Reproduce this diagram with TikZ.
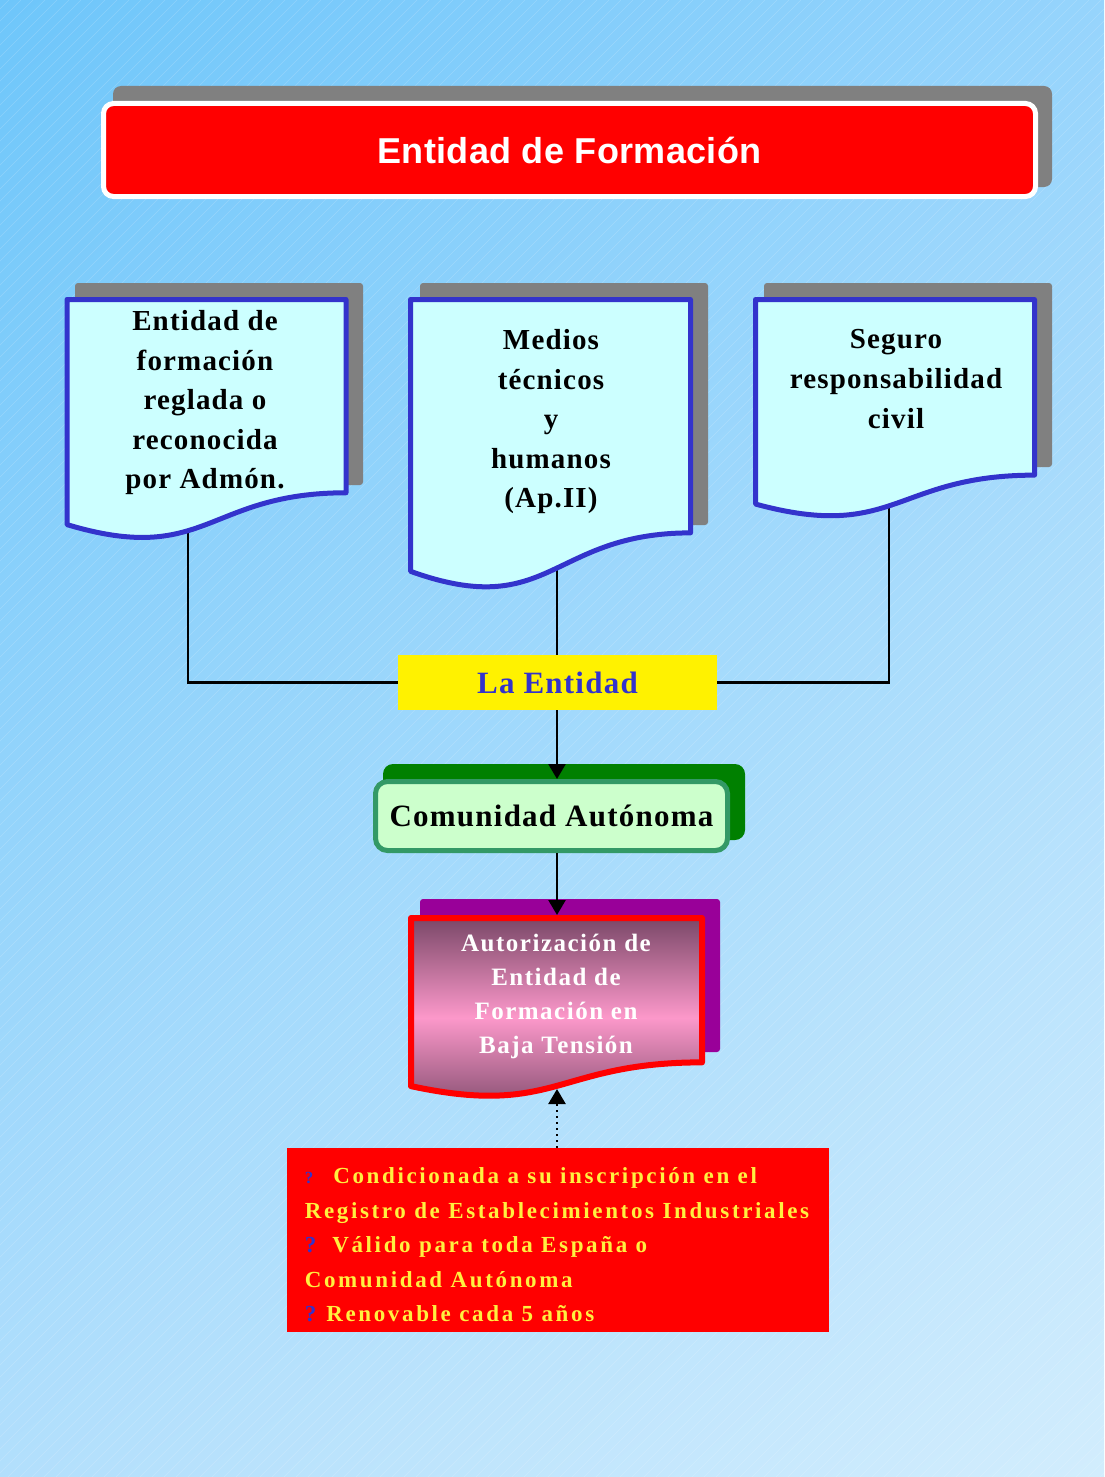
\documentclass[tikz,border=0pt]{standalone}
\usepackage{fontspec}
\setmainfont{Liberation Serif}
\newfontfamily\titlefont{Liberation Sans}[LetterSpace=1]
\newfontfamily\boxfont{Liberation Serif}[LetterSpace=4]
\newfontfamily\autfont{Liberation Serif}[LetterSpace=6]
\newfontfamily\infofont{Liberation Serif}[LetterSpace=11.5]
\usetikzlibrary{arrows.meta,shadings}
\pgfdeclarelayer{back}
\pgfdeclarelayer{conns}
\pgfsetlayers{back,conns,main}
\definecolor{bgA}{RGB}{110,198,250}
\definecolor{bgB}{RGB}{150,212,252}
\definecolor{bgC}{RGB}{178,223,252}
\definecolor{bgD}{RGB}{210,237,253}
\definecolor{boxblue}{HTML}{3333CC}
\definecolor{boxfill}{HTML}{CCFFFF}
\definecolor{shgray}{HTML}{808080}
\definecolor{shgreen}{HTML}{008000}
\definecolor{comfill}{HTML}{CCFFCC}
\definecolor{comborder}{HTML}{339966}
\definecolor{shpurple}{HTML}{990099}
\definecolor{mauve}{RGB}{122,72,104}
\definecolor{pinkmid}{RGB}{252,152,202}
\definecolor{infoyellow}{RGB}{255,240,64}
\newcommand\docpath[4]{(#1,#2) -- ({#1+#3},#2) -- ({#1+#3},{#2+0.802*#4}) .. controls ({#1+0.5*#3},{#2+0.802*#4}) and ({#1+0.5*#3},{#2+1.1075*#4}) .. (#1,{#2+0.934*#4}) -- cycle}
\tikzset{
  docbox/.style={fill=boxfill,draw=boxblue,line width=5pt,line join=round},
  shadowbox/.style={fill=shgray,rounded corners=3pt},
  doctext/.style={align=center,font=\boxfont\bfseries\fontsize{29}{39.5}\selectfont,text=black},
  conn/.style={draw=black,line width=2.5pt},
  arr/.style={draw=black,line width=2.5pt,-{Triangle[width=17pt,length=15pt]}},
  dotarr/.style={draw=black,line width=2.5pt,dash pattern=on 2pt off 4pt,-{Triangle[width=17pt,length=15pt]}},
}
\begin{document}
\begin{tikzpicture}[x=1pt,y=-1pt]
\useasboundingbox (0,0) rectangle (1104,1477);
\begin{pgfonlayer}{back}
\shade[upper left=bgA,upper right=bgB,lower left=bgC,lower right=bgD] (0,0) rectangle (1104,1477);
\begin{scope}
\clip (0,0) rectangle (1104,1477);
\foreach \i in {-1480,-1468,...,1104} \draw[white,opacity=0.18,line width=0.6pt] (\i,1477) -- ++(1477,-1477);
\end{scope}
\end{pgfonlayer}

% title
\fill[shgray,rounded corners=8pt] (113,86) rectangle (1052,187);
\node[fill=red,draw=white,line width=5pt,rounded corners=10pt,minimum width=932pt,minimum height=93pt,
  text=white,font=\titlefont\bfseries\fontsize{36}{40}\selectfont] (title) at (569.5,150) {Entidad de Formación};

% three documents
\fill[shadowbox] (75,283) rectangle (363,485);
\draw[docbox] \docpath{67}{299.5}{279}{241};
\node[doctext] (b1) at (205,403) {Entidad de\\formación\\reglada o\\reconocida\\por Admón.};

\fill[shadowbox] (420,283) rectangle (708,525);
\draw[docbox] \docpath{410.5}{299.5}{280}{291};
\node[doctext] (b2) at (551,422) {Medios\\técnicos\\y\\humanos\\(Ap.II)};

\fill[shadowbox] (764,283) rectangle (1052,467);
\draw[docbox] \docpath{755.5}{299.5}{279}{219};
\node[doctext,font=\boxfont\bfseries\fontsize{29}{40}\selectfont] (b3) at (896,379) {Seguro\\responsabilidad\\civil};

% La Entidad
\node[fill=yellow,minimum width=319pt,minimum height=55pt,text=boxblue,
  font=\boxfont\bfseries\fontsize{31}{36}\selectfont] (ent) at (557.5,682.5) {La Entidad};

\coordinate (b1w) at (188,520);
\coordinate (b2w) at (557,560);
\coordinate (b3w) at (889,490);
\begin{pgfonlayer}{conns}
\draw[conn] (b1w) |- (ent.west);
\draw[conn] (b2w) -- (ent.north -| b2w);
\draw[conn] (b3w) |- (ent.east);
\end{pgfonlayer}

% Comunidad Autonoma
\fill[shgreen,rounded corners=10pt] (383,764) rectangle (745,840);
\node[fill=comfill,draw=comborder,line width=5pt,rounded corners=12pt,minimum width=352pt,minimum height=69pt,
  font=\boxfont\bfseries\fontsize{31}{36}\selectfont] (com) at (551.5,816) {Comunidad Autónoma};

\draw[arr] (b2w |- ent.south) -- (b2w |- com.north);

% Autorizacion
\fill[shpurple,rounded corners=3pt] (420,899) rectangle (720,1052);
\shade[top color=mauve,bottom color=mauve,middle color=pinkmid] \docpath{411}{918}{291}{180};
\draw[red,line width=6pt,line join=round] \docpath{411}{918}{291}{180};
\node[align=center,text=white,font=\autfont\bfseries\fontsize{25}{34}\selectfont] (aut) at (556,996)
  {Autorización de\\Entidad de\\Formación en\\Baja Tensión};
\coordinate (autTop) at (557,915);
\coordinate (autBot) at (557,1089);

\draw[arr] (autTop |- com.south) -- (autTop);

% info box
\node[fill=red,minimum width=542pt,minimum height=184pt] (info) at (558,1240) {};
\node[align=left,text=infoyellow,font=\infofont\bfseries\fontsize{23}{34.5}\selectfont] (infotext) at (557,1245)
  {{\color{boxblue}\fontsize{17}{20}\selectfont ?}\hspace{20pt}Condicionada a su inscripción en el\\
   Registro de Establecimientos Industriales\\
   {\color{boxblue}?}\hspace{16pt}Válido para toda España o\\
   Comunidad Autónoma\\
   {\color{boxblue}?}\hspace{10pt}Renovable cada 5 años};

\draw[dotarr] (autBot |- info.north) -- (autBot);
\end{tikzpicture}
\end{document}
